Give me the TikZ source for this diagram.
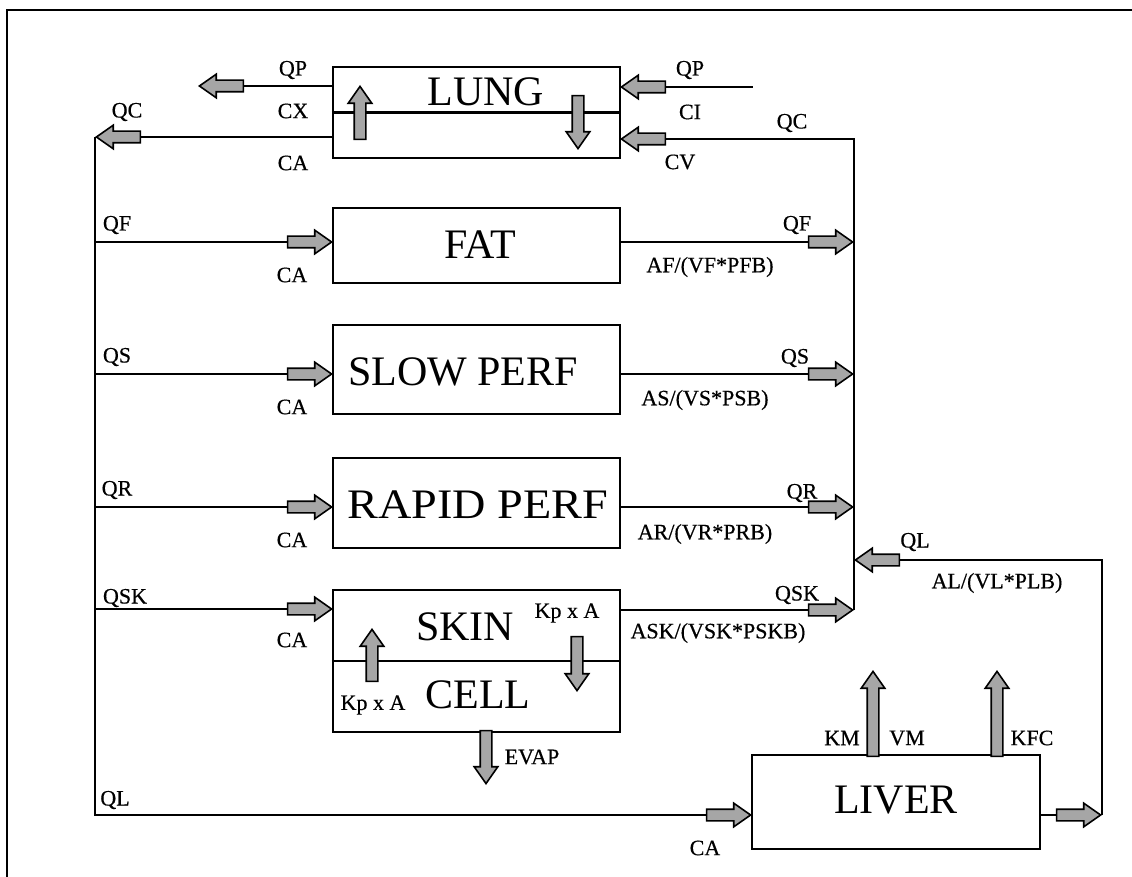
\documentclass[tikz,border=0pt]{standalone}
\usepackage{fontspec}
\setmainfont{Liberation Serif}
\newfontface\lblface[FakeBold=0.5]{Liberation Serif}
\usetikzlibrary{shapes.arrows}
\tikzset{
  ln/.style={line width=2.2pt},
  box/.style={draw, line width=2.2pt, rectangle, inner sep=0pt},
  blk/.style={single arrow, draw=black, line width=1.6pt, fill=black!35,
    inner xsep=0pt, inner ysep=5pt, minimum width=1pt, single arrow head extend=6pt,
    single arrow tip angle=70, single arrow head indent=0pt, minimum height=44pt},
  vblk/.style={blk, inner xsep=5pt, inner ysep=0pt, single arrow head extend=6pt},
  lbl/.style={font=\lblface\fontsize{22}{24}\selectfont, inner sep=0pt},
  ttl/.style={font=\fontsize{42}{46}\selectfont, inner sep=0pt},
}
\begin{document}
\begin{tikzpicture}[x=1pt,y=-1pt]
\useasboundingbox (0,0) rectangle (1132,877);
\fill[white] (0,0) rectangle (1132,877);
% frame
\draw[line width=2.4pt] (1132,10) -- (7,10) -- (7,877);

% boxes
\node[box, minimum width=287pt, minimum height=91pt] (lung) at (476.5,112.5) {};
\node[box, minimum width=287pt, minimum height=75pt] (fat) at (476.5,245.5) {};
\node[box, minimum width=287pt, minimum height=89pt] (slow) at (476.5,369.5) {};
\node[box, minimum width=287pt, minimum height=90pt] (rapid) at (476.5,503) {};
\node[box, minimum width=287pt, minimum height=142pt] (skin) at (476.5,661) {};
\node[box, minimum width=288pt, minimum height=94pt] (liver) at (896,802) {};
\draw[ln] (lung.west) -- (lung.east);
\draw[ln] (skin.west) -- (skin.east);

% titles
\node[ttl] (tLung) at (486,92) {LUNG};
\node[ttl] (tFat) at (480,245) {FAT};
\node[ttl] (tSlow) at (463,372) {SLOW PERF};
\node[ttl, xscale=1.1] (tRapid) at (478,505) {RAPID PERF};
\node[ttl] (tSkin) at (465,627) {SKIN};
\node[ttl] (tCell) at (478,695) {CELL};
\node[ttl] (tLiver) at (896,800) {LIVER};

% horizontal block arrows
\node[blk, shape border rotate=180, anchor=tip] (aQPo) at (198,86) {};
\node[blk, shape border rotate=180, anchor=tip] (aQCo) at (95,137) {};
\node[blk, shape border rotate=180, anchor=tip] (aQPi) at (620,87) {};
\node[blk, shape border rotate=180, anchor=tip] (aCV) at (620,139) {};
\node[blk, anchor=tip] (aFi) at (333,242) {};
\node[blk, anchor=tip] (aFo) at (854,242) {};
\node[blk, anchor=tip] (aSi) at (333,374) {};
\node[blk, anchor=tip] (aSo) at (854,374) {};
\node[blk, anchor=tip] (aRi) at (333,507) {};
\node[blk, anchor=tip] (aRo) at (854,507) {};
\node[blk, anchor=tip] (aKi) at (333,609) {};
\node[blk, anchor=tip] (aKo) at (854,610) {};
\node[blk, shape border rotate=180, anchor=tip] (aQL) at (854,560) {};
\node[blk, anchor=tip] (aLi) at (752,815) {};
\node[blk, anchor=tip] (aLo) at (1102,815) {};

% vertical block arrows
\node[vblk, shape border rotate=90, anchor=tip, minimum height=53pt] (aLu1) at (360,85) {};
\node[vblk, shape border rotate=270, anchor=tip, minimum height=53pt] (aLu2) at (578,150) {};
\node[vblk, shape border rotate=90, anchor=tip, minimum height=52pt] (aSk1) at (372,628) {};
\node[vblk, shape border rotate=270, anchor=tip, minimum height=54pt] (aSk2) at (577,692) {};
\node[vblk, shape border rotate=270, anchor=tip, minimum height=53pt] (aEv) at (486,785) {};
\node[vblk, shape border rotate=90, anchor=tip, minimum height=85pt] (aKM) at (873,670) {};
\node[vblk, shape border rotate=90, anchor=tip, minimum height=85pt] (aKFC) at (997,670) {};

% connectors
\coordinate (qpin) at (753,87);
\draw[ln] (aQPo.tail) -- (lung.west |- aQPo.tail);
\draw[ln] (aQCo.tail) -- (lung.west |- aQCo.tail);
\draw[ln] (aQPi.tail) -- (qpin);
\draw[ln] (aCV.tail) -| (aKo.tip);
\draw[ln] (aQCo.tip) |- (aLi.tail);
\draw[ln] (aQCo.tip |- aFi) -- (aFi.tail);
\draw[ln] (aQCo.tip |- aSi) -- (aSi.tail);
\draw[ln] (aQCo.tip |- aRi) -- (aRi.tail);
\draw[ln] (aQCo.tip |- aKi) -- (aKi.tail);
\draw[ln] (fat.east |- aFo) -- (aFo.tail);
\draw[ln] (slow.east |- aSo) -- (aSo.tail);
\draw[ln] (rapid.east |- aRo) -- (aRo.tail);
\draw[ln] (skin.east |- aKo) -- (aKo.tail);
\draw[ln] (liver.east |- aLo) -- (aLo.tail);
\draw[ln] (aLo.tip) |- (aQL.tail);

% labels
\node[lbl] (lQP1) at (293,70) {QP};
\node[lbl] (lCX) at (293,111) {CX};
\node[lbl] (lCA0) at (293,163) {CA};
\node[lbl] (lQC1) at (127,112) {QC};
\node[lbl] (lQP2) at (690,70) {QP};
\node[lbl] (lCI) at (690,112) {CI};
\node[lbl] (lCV) at (680,162) {CV};
\node[lbl] (lQC2) at (792,123) {QC};

\node[lbl] (lQF1) at (117,225) {QF};
\node[lbl] (lCA1) at (292,275) {CA};
\node[lbl] (lQF2) at (797,225) {QF};
\node[lbl] (lAF) at (710,267) {AF/(VF*PFB)};

\node[lbl] (lQS1) at (117,357) {QS};
\node[lbl] (lCA2) at (292,407) {CA};
\node[lbl] (lQS2) at (795,358) {QS};
\node[lbl] (lAS) at (705,400) {AS/(VS*PSB)};

\node[lbl] (lQR1) at (117,490) {QR};
\node[lbl] (lCA3) at (292,540) {CA};
\node[lbl] (lQR2) at (802,493) {QR};
\node[lbl] (lAR) at (705,534) {AR/(VR*PRB)};

\node[lbl] (lQSK1) at (125,598) {QSK};
\node[lbl] (lCA4) at (292,640) {CA};
\node[lbl] (lQSK2) at (797,595) {QSK};
\node[lbl] (lASK) at (718,633) {ASK/(VSK*PSKB)};
\node[lbl] (lKp1) at (567,613) {Kp x A};
\node[lbl] (lKp2) at (373,705) {Kp x A};
\node[lbl] (lEVAP) at (532,757) {EVAP};

\node[lbl] (lQL2) at (915,542) {QL};
\node[lbl] (lAL) at (997,583) {AL/(VL*PLB)};
\node[lbl] (lQL1) at (115,800) {QL};
\node[lbl] (lCA5) at (705,848) {CA};
\node[lbl] (lKM) at (842,738) {KM};
\node[lbl] (lVM) at (907,738) {VM};
\node[lbl] (lKFC) at (1032,738) {KFC};
\end{tikzpicture}
\end{document}
